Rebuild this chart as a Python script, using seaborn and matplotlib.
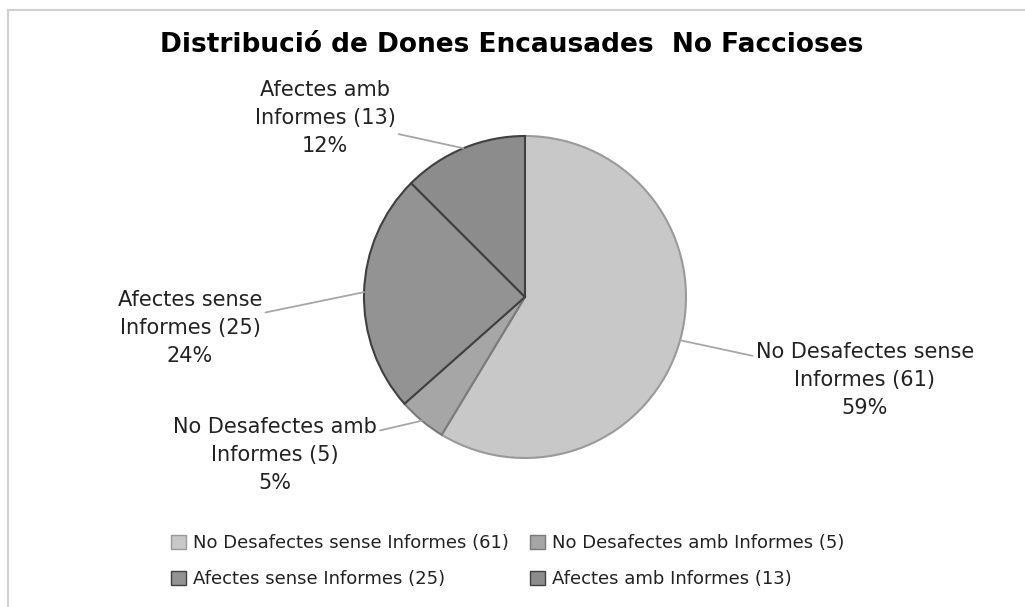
import seaborn as sns
import matplotlib.pyplot as plt
from matplotlib.lines import Line2D
from matplotlib.patches import Patch
import numpy as np

# Data
categories = ['No Desafectes sense Informes', 'No Desafectes amb Informes',
              'Afectes sense Informes', 'Afectes amb Informes']
counts = [61, 5, 25, 13]
label_lines = [['No Desafectes sense', 'Informes (61)'],
               ['No Desafectes amb', 'Informes (5)'],
               ['Afectes sense', 'Informes (25)'],
               ['Afectes amb', 'Informes (13)']]
title = 'Distribució de Dones Encausades  No Faccioses'

sns.set_theme(style='white')
plt.rcParams['font.family'] = ['DejaVu Sans']

colors = ['#c8c8c8', '#a6a6a6', '#939393', '#8c8c8c']
edges = ['#9a9a9a', '#7a7a7a', '#404040', '#404040']

W, H = 1025, 607
fig = plt.figure(figsize=(W / 100, H / 100), dpi=100)
cx, cy, R = 525, 297, 161
ax = fig.add_axes([(cx - R) / W, (H - cy - R) / H, 2 * R / W, 2 * R / H])

wedges, _ = ax.pie(counts, colors=colors, startangle=90, counterclock=False,
                   radius=1, wedgeprops=dict(linewidth=1.5))
for w, ec in zip(wedges, edges):
    w.set_edgecolor(ec)
ax.set_xlim(-1, 1)
ax.set_ylim(-1, 1)
ax.set_aspect('equal')
ax.axis('off')

# label positions (pixel centres of each label block)
label_px = [(865, 380), (275, 455), (190, 328), (325, 118)]
total = sum(counts)
for w, lines, n, (px, py) in zip(wedges, label_lines, counts, label_px):
    ang = np.deg2rad((w.theta1 + w.theta2) / 2)
    xy = (np.cos(ang), np.sin(ang))
    txt = '\n'.join(lines) + f'\n{round(100 * n / total)}%'
    tx, ty = (px - cx) / R, (cy - py) / R
    ax.annotate(txt, xy=xy, xytext=(tx, ty), ha='center', va='center',
                fontsize=15, color='#222222', linespacing=1.5,
                arrowprops=dict(arrowstyle='-', color='#a6a6a6', lw=1.3,
                                shrinkA=0, shrinkB=0))

fig.text(512 / W, 1 - 45 / H, title, ha='center', va='center',
         fontsize=19, fontweight='bold', color='black')

handles = [Patch(facecolor=c, edgecolor=e, label=f'{cat} ({n})')
           for c, e, cat, n in zip(colors, edges, categories, counts)]
# legend fills column-wise; reorder so rows read in series order
handles = [handles[0], handles[2], handles[1], handles[3]]
fig.legend(handles=handles, ncol=2, loc='upper left',
           bbox_to_anchor=(155 / W, 1 - 518 / H), frameon=False,
           fontsize=13, handlelength=0.8, handleheight=0.8,
           handletextpad=0.4, columnspacing=1.2, labelspacing=1.0,
           labelcolor='#222222')

# chart area border (top and left)
fig.add_artist(Line2D([8 / W, 1], [1 - 10 / H, 1 - 10 / H], color='#d0d0d0', lw=1.5))
fig.add_artist(Line2D([8 / W, 8 / W], [0, 1 - 10 / H], color='#d0d0d0', lw=1.5))

fig.savefig('out.png', dpi=100)
